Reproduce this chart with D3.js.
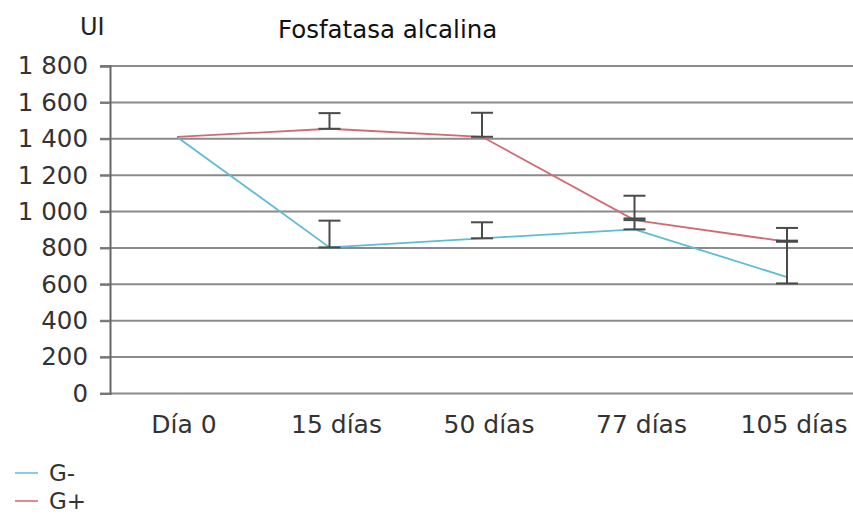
<!DOCTYPE html>
<html>
<head>
<meta charset="utf-8">
<script src="https://cdn.jsdelivr.net/npm/d3@7"></script>
<style>
  html, body { margin: 0; padding: 0; background: #fff; }
  svg { display: block; }
  text { font-family: "DejaVu Sans", Verdana, sans-serif; }
</style>
</head>
<body>
<svg id="chart" width="853" height="515"></svg>
<script>
// Categories (sampling days)
const categories = ["Día 0", "15 días", "50 días", "77 días", "105 días"];

// Mean alkaline phosphatase (UI) per group
const gMinus = [1410, 803, 853, 902, 640];
const gPlus  = [1410, 1455, 1411, 953, 834];

// Error bar extents (lower and upper ends, UI); null = no bar
const gMinusErrLow  = [null, 803, 853, 902, 605];
const gMinusErrHigh = [null, 950, 941, 962, 840];
const gPlusErrLow   = [null, 1455, 1411, 953, 834];
const gPlusErrHigh  = [null, 1541, 1543, 1087, 910];

const yTicks = [0, 200, 400, 600, 800, 1000, 1200, 1400, 1600, 1800];

const seriesNames = ["G-", "G+"];
const seriesColors = ["#5cbdd3", "#d26a74"];

const svg = d3.select("#chart");

const x = d3.scalePoint().domain(categories).range([177, 787]);
const y = d3.scaleLinear().domain([0, 1800]).range([393.5, 66]);

const fmt = d3.formatLocale({ decimal: ",", thousands: "\u00a0", grouping: [3], currency: ["", ""] }).format(",d");

// Horizontal gridlines
svg.append("g")
  .selectAll("line")
  .data(yTicks)
  .join("line")
  .attr("x1", 100).attr("x2", 853)
  .attr("y1", d => y(d)).attr("y2", d => y(d))
  .attr("stroke", "#8a8a8a")
  .attr("stroke-width", 2);

// Y axis
const yAxis = svg.append("g")
  .attr("transform", "translate(110,0)")
  .call(d3.axisLeft(y).tickValues(yTicks).tickFormat(fmt).tickSize(10).tickPadding(12));
yAxis.select(".domain").attr("stroke", "#666").attr("stroke-width", 2);
yAxis.selectAll(".tick line").attr("stroke", "#777").attr("stroke-width", 2);
yAxis.selectAll(".tick text")
  .attr("font-size", 24.5)
  .attr("fill", "#333")
  .attr("font-family", "DejaVu Sans, Verdana, sans-serif");

// Category labels
svg.append("g")
  .selectAll("text")
  .data(categories)
  .join("text")
  .attr("x", d => x(d) + 7)
  .attr("y", 433)
  .attr("text-anchor", "middle")
  .attr("font-size", 25)
  .attr("fill", "#333")
  .text(d => d);

// Title and unit
svg.append("text")
  .attr("x", 278).attr("y", 38)
  .attr("font-size", 24.5)
  .attr("fill", "#111")
  .text("Fosfatasa alcalina");
svg.append("text")
  .attr("x", 80).attr("y", 35)
  .attr("font-size", 24)
  .attr("fill", "#222")
  .text("UI");

// Series lines
const line = d3.line()
  .x((d, i) => x(categories[i]))
  .y(d => y(d));

[gMinus, gPlus].forEach((vals, s) => {
  svg.append("path")
    .datum(vals)
    .attr("d", line)
    .attr("fill", "none")
    .attr("stroke", seriesColors[s])
    .attr("stroke-width", 1.8);
});

// Error bars
const capHalf = 11;
[[gMinusErrLow, gMinusErrHigh], [gPlusErrLow, gPlusErrHigh]].forEach(([lo, hi]) => {
  const g = svg.append("g").attr("stroke", "#4a4a4a").attr("stroke-width", 2);
  categories.forEach((c, i) => {
    if (lo[i] == null || hi[i] == null) return;
    const cx = x(c);
    g.append("line").attr("x1", cx).attr("x2", cx).attr("y1", y(lo[i])).attr("y2", y(hi[i]));
    [lo[i], hi[i]].forEach(v => {
      g.append("line").attr("x1", cx - capHalf).attr("x2", cx + capHalf).attr("y1", y(v)).attr("y2", y(v));
    });
  });
});

// Legend
const legend = svg.append("g");
seriesNames.forEach((name, i) => {
  const ly = 473 + i * 28;
  legend.append("line")
    .attr("x1", 15).attr("x2", 38)
    .attr("y1", ly).attr("y2", ly)
    .attr("stroke", i === 0 ? "#86cfe0" : "#e08a90")
    .attr("stroke-width", 2);
  legend.append("text")
    .attr("x", 49).attr("y", ly + 8)
    .attr("font-size", 23)
    .attr("fill", "#333")
    .text(name);
});
</script>
</body>
</html>
